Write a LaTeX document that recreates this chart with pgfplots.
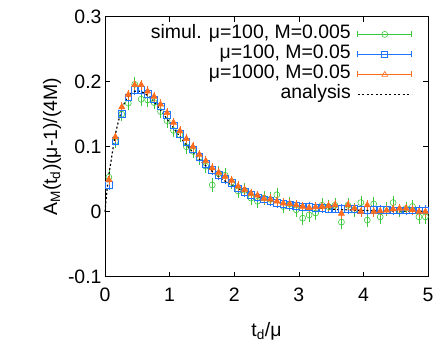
\documentclass[border=0pt]{standalone}
\usepackage{fontspec}
\setmainfont{Liberation Sans}
\usepackage{pgfplots}
\pgfplotsset{compat=1.18}
\usepackage{pgfplotstable}
\definecolor{cg}{RGB}{60,200,60}
\definecolor{cb}{RGB}{30,115,255}
\definecolor{co}{RGB}{255,110,30}

\pgfplotstableread{
t g ge b be o oe
0.06 0.053 0.006 0.041 0.003 0.049 0.003
0.16 0.108 0.006 0.109 0.003 0.115 0.003
0.26 0.150 0.006 0.151 0.003 0.161 0.003
0.36 0.167 0.006 0.176 0.003 0.180 0.003
0.46 0.196 0.006 0.187 0.003 0.195 0.003
0.56 0.173 0.006 0.187 0.003 0.195 0.003
0.66 0.172 0.006 0.181 0.003 0.185 0.003
0.76 0.168 0.006 0.173 0.003 0.177 0.003
0.86 0.154 0.006 0.162 0.003 0.165 0.003
0.96 0.140 0.006 0.149 0.003 0.152 0.003
1.06 0.125 0.006 0.133 0.003 0.137 0.003
1.16 0.118 0.006 0.120 0.003 0.124 0.003
1.26 0.100 0.006 0.108 0.003 0.112 0.003
1.36 0.093 0.006 0.096 0.003 0.100 0.003
1.46 0.083 0.006 0.084 0.003 0.088 0.003
1.56 0.070 0.006 0.074 0.003 0.078 0.003
1.66 0.041 0.006 0.064 0.003 0.067 0.003
1.76 0.059 0.006 0.057 0.003 0.060 0.003
1.86 0.056 0.006 0.050 0.003 0.054 0.003
1.96 0.045 0.006 0.044 0.003 0.048 0.003
2.06 0.032 0.006 0.036 0.003 0.039 0.003
2.16 0.033 0.006 0.031 0.003 0.034 0.003
2.26 0.021 0.006 0.026 0.003 0.028 0.003
2.36 0.016 0.006 0.022 0.003 0.025 0.003
2.46 0.021 0.006 0.019 0.003 0.020 0.003
2.56 0.019 0.006 0.017 0.003 0.019 0.003
2.66 0.026 0.006 0.014 0.003 0.016 0.003
2.76 0.008 0.006 0.012 0.003 0.013 0.003
2.86 0.012 0.006 0.010 0.003 0.012 0.003
2.96 0.003 0.006 0.009 0.003 0.010 0.003
3.06 -0.010 0.006 0.008 0.003 0.008 0.003
3.16 -0.005 0.006 0.007 0.003 0.006 0.003
3.26 -0.002 0.006 0.006 0.003 0.007 0.003
3.36 0.010 0.006 0.006 0.003 0.008 0.003
3.46 0.008 0.006 0.005 0.003 0.009 0.003
3.56 0.010 0.006 0.005 0.003 0.010 0.003
3.66 -0.016 0.006 0.004 0.003 -0.003 0.003
3.76 0.010 0.006 0.004 0.003 0.010 0.003
3.86 0.003 0.006 0.004 0.003 0.005 0.003
3.96 0.014 0.006 0.003 0.003 0.000 0.003
4.06 -0.013 0.006 0.003 0.003 0.010 0.003
4.16 0.012 0.006 0.003 0.003 0.000 0.003
4.26 -0.008 0.006 0.003 0.003 0.001 0.003
4.36 0.004 0.006 0.003 0.003 0.002 0.003
4.46 0.014 0.006 0.002 0.003 0.004 0.003
4.56 0.002 0.006 0.002 0.003 0.005 0.003
4.66 0.005 0.006 0.002 0.003 0.005 0.003
4.76 0.008 0.006 0.002 0.003 0.003 0.003
4.86 -0.008 0.006 0.002 0.003 0.000 0.003
4.96 -0.008 0.006 0.002 0.003 0.000 0.003
}\simdata

\pgfplotstableread{
t y
0.00 0.000
0.02 0.022
0.05 0.050
0.10 0.082
0.15 0.113
0.20 0.136
0.25 0.154
0.30 0.167
0.35 0.176
0.40 0.182
0.45 0.185
0.50 0.186
0.60 0.183
0.70 0.175
0.80 0.164
0.90 0.151
1.00 0.137
1.20 0.110
1.40 0.087
1.60 0.067
1.80 0.051
2.00 0.039
2.20 0.029
2.40 0.022
2.60 0.016
2.80 0.012
3.00 0.009
3.50 0.004
4.00 0.002
4.50 0.001
5.00 0.0005
}\anadata

\begin{document}
\begin{tikzpicture}
\begin{axis}[
  scale only axis,
  width=323bp, height=260bp,
  xmin=0, xmax=5, ymin=-0.1, ymax=0.3,
  xtick={0,1,2,3,4,5},
  ytick={-0.1,0,0.1,0.2,0.3},
  tick align=inside,
  major tick length=5bp,
  tick style={black, line width=0.6pt},
  axis line style={line width=0.8pt},
  /pgf/number format/assume math mode=true,
  ticklabel style={font=\fontsize{19.5}{21}\selectfont},
  xticklabel style={yshift=-8bp},
  label style={font=\fontsize{19.5}{21}\selectfont},
  xlabel style={yshift=-14bp},
  xlabel={t\textsubscript{d}/μ},
  ylabel={A\textsubscript{M}(t\textsubscript{d})(μ-1)/(4M)},
  yticklabel style={/pgf/number format/fixed},
  legend plot pos=right,
  legend cell align=right,
  legend style={at={(rel axis cs:0.955,0.975)}, anchor=north east, draw=none, fill=none,
    font=\fontsize{19.5}{20}\selectfont, row sep=0bp, column sep=6bp, inner sep=1bp,
    nodes={inner sep=0.5bp, text height=14bp, text depth=5bp}},
  clip=false,
]
\addplot[only marks, cg, mark=o, mark size=3bp, line width=0.6pt,
  error bars/.cd, y dir=both, y explicit,
  error bar style={line width=0.6pt, cg}, error mark options={cg, mark size=3bp, line width=0.6pt},
  /pgfplots/legend image code/.code={
    \draw[cg, line width=0.6pt] (0bp,0bp) -- (54bp,0bp);
    \draw[cg, line width=0.6pt] (0bp,-3bp) -- (0bp,3bp) (54bp,-3bp) -- (54bp,3bp);
    \draw[cg, line width=0.6pt] (27bp,0bp) circle (3bp);
  }]
  table[x=t, y=g, y error=ge] {\simdata};
\addlegendentry{simul. μ=100, M=0.005}
\addplot[only marks, cb, mark=square, mark size=3.4bp, line width=0.7pt,
  error bars/.cd, y dir=both, y explicit,
  error bar style={line width=0.6pt, cb}, error mark options={cb, mark size=3bp, line width=0.6pt},
  /pgfplots/legend image code/.code={
    \draw[cb, line width=0.6pt] (0bp,0bp) -- (54bp,0bp);
    \draw[cb, line width=0.6pt] (0bp,-3bp) -- (0bp,3bp) (54bp,-3bp) -- (54bp,3bp);
    \draw[cb, line width=0.6pt] (24bp,-3bp) rectangle (30bp,3bp);
  }]
  table[x=t, y=b, y error=be] {\simdata};
\addlegendentry{μ=100, M=0.05}
\addplot[only marks, co, mark=triangle*, mark size=3.5bp, line width=0.6pt,
  error bars/.cd, y dir=both, y explicit,
  error bar style={line width=0.6pt, co}, error mark options={co, mark size=3bp, line width=0.6pt},
  /pgfplots/legend image code/.code={
    \draw[co, line width=0.6pt] (0bp,0bp) -- (54bp,0bp);
    \draw[co, line width=0.6pt] (0bp,-3bp) -- (0bp,3bp) (54bp,-3bp) -- (54bp,3bp);
    \draw[co, line width=0.6pt] (24bp,-2bp) -- (30bp,-2bp) -- (27bp,3bp) -- cycle;
  }]
  table[x=t, y=o, y error=oe] {\simdata};
\addlegendentry{μ=1000, M=0.05}
\addplot[black, line width=1.2pt, dash pattern=on 2bp off 2.2bp, smooth,
  /pgfplots/legend image code/.code={
    \draw[black, line width=1pt, dash pattern=on 2bp off 2.5bp] (0bp,0bp) -- (54bp,0bp);
  }]
  table[x=t, y=y] {\anadata};
\addlegendentry{analysis}
\coordinate (SW) at (rel axis cs:0,0);
\coordinate (NE) at (rel axis cs:1,1);
\end{axis}
\path ([shift={(-105bp,-62bp)}]SW) rectangle ([shift={(10bp,16.7bp)}]NE);
\end{tikzpicture}
\end{document}
